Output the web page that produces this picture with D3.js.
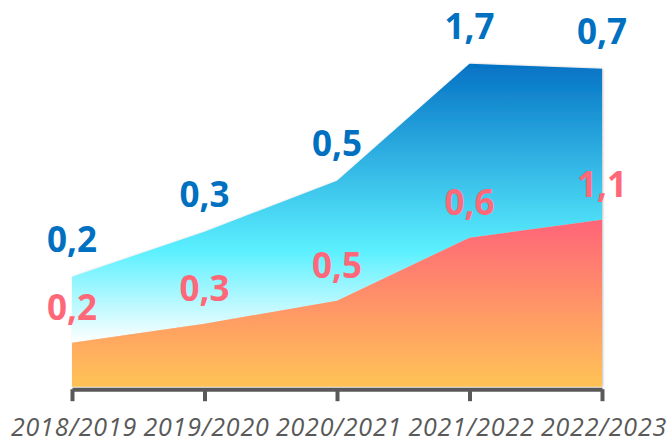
<!DOCTYPE html>
<html lang="en">
<head>
    <meta charset="UTF-8">
    <title>Area chart</title>
    <script src="https://cdnjs.cloudflare.com/ajax/libs/d3/7.8.5/d3.min.js"></script>
    <style>
        body { margin: 0; background: #fff; }
        #chart { width: 670px; height: 441px; }
        .value-label { font-family: 'Open Sans', sans-serif; font-weight: bold; font-size: 35px; text-anchor: middle; }
        .x-label { font-family: 'Open Sans', sans-serif; font-style: italic; font-size: 25px; letter-spacing: 0.8px; fill: #595959; text-anchor: middle; }
    </style>
</head>
<body>
    <div id="chart"></div>
    <script>
        const years = ['2018/2019', '2019/2020', '2020/2021', '2021/2022', '2022/2023'];
        // heights of the areas
        const redValues = [0.44, 0.63, 0.86, 1.49, 1.67];
        const blueValues = [0.66, 0.92, 1.20, 1.74, 1.51];
        // printed labels
        const blueLabels = ['0,2', '0,3', '0,5', '1,7', '0,7'];
        const redLabels = ['0,2', '0,3', '0,5', '0,6', '1,1'];

        const width = 670, height = 441;
        const svg = d3.select('#chart').append('svg')
            .attr('width', width)
            .attr('height', height);

        const x = d3.scalePoint().domain(years).range([72, 602]);
        const y = d3.scaleLinear().domain([0, 3.3]).range([386.7, 56.7]);

        const rows = years.map((yr, i) => ({ year: yr, red: redValues[i], blue: blueValues[i] }));
        const stacked = d3.stack().keys(['red', 'blue'])(rows);

        const defs = svg.append('defs');
        const blueGrad = defs.append('linearGradient')
            .attr('id', 'blueGrad')
            .attr('gradientUnits', 'userSpaceOnUse')
            .attr('x1', 0).attr('x2', 0)
            .attr('y1', y(d3.max(stacked[1], d => d[1])))
            .attr('y2', y(d3.min(stacked[1], d => d[0])));
        blueGrad.append('stop').attr('offset', '0%').attr('stop-color', '#0472c5');
        blueGrad.append('stop').attr('offset', '67%').attr('stop-color', '#5bf0ff');
        blueGrad.append('stop').attr('offset', '100%').attr('stop-color', '#ffffff');

        const redGrad = defs.append('linearGradient')
            .attr('id', 'redGrad')
            .attr('gradientUnits', 'userSpaceOnUse')
            .attr('x1', 0).attr('x2', 0)
            .attr('y1', y(d3.max(redValues)))
            .attr('y2', y(0));
        redGrad.append('stop').attr('offset', '0%').attr('stop-color', '#ff6479');
        redGrad.append('stop').attr('offset', '100%').attr('stop-color', '#ffc356');

        const shadow = defs.append('filter').attr('id', 'shadow')
            .attr('x', '-5%').attr('y', '-5%').attr('width', '110%').attr('height', '110%');
        shadow.append('feDropShadow')
            .attr('dx', 1).attr('dy', 0)
            .attr('stdDeviation', 1.2)
            .attr('flood-color', '#000')
            .attr('flood-opacity', 0.25);

        const area = d3.area()
            .x(d => x(d.data.year))
            .y0(d => y(d[0]))
            .y1(d => y(d[1]));

        const areas = svg.append('g').attr('filter', 'url(#shadow)');
        areas.append('path')
            .datum(stacked[1])
            .attr('fill', 'url(#blueGrad)')
            .attr('d', area);
        areas.append('path')
            .datum(stacked[0])
            .attr('fill', 'url(#redGrad)')
            .attr('d', area);

        // x axis
        const axis = svg.append('g')
            .attr('transform', `translate(0,${y(0) + 2.5})`)
            .call(d3.axisBottom(x).tickSize(12).tickSizeOuter(0).tickFormat(''));
        axis.select('.domain').attr('stroke', '#595959').attr('stroke-width', 4);
        axis.selectAll('.tick line').attr('stroke', '#595959').attr('stroke-width', 4);

        svg.append('g').selectAll('text')
            .data(years)
            .enter().append('text')
            .attr('class', 'x-label')
            .attr('x', d => x(d) + 2)
            .attr('y', 436)
            .text(d => d);

        // value labels
        svg.append('g').selectAll('text')
            .data(stacked[1])
            .enter().append('text')
            .attr('class', 'value-label')
            .attr('fill', '#0070c0')
            .attr('x', d => x(d.data.year))
            .attr('y', d => y(d[1]) - 25)
            .text((d, i) => blueLabels[i]);

        svg.append('g').selectAll('text')
            .data(stacked[0])
            .enter().append('text')
            .attr('class', 'value-label')
            .attr('fill', '#ff6878')
            .attr('x', d => x(d.data.year))
            .attr('y', d => y(d[1]) - 23)
            .text((d, i) => redLabels[i]);
    </script>
</body>
</html>
